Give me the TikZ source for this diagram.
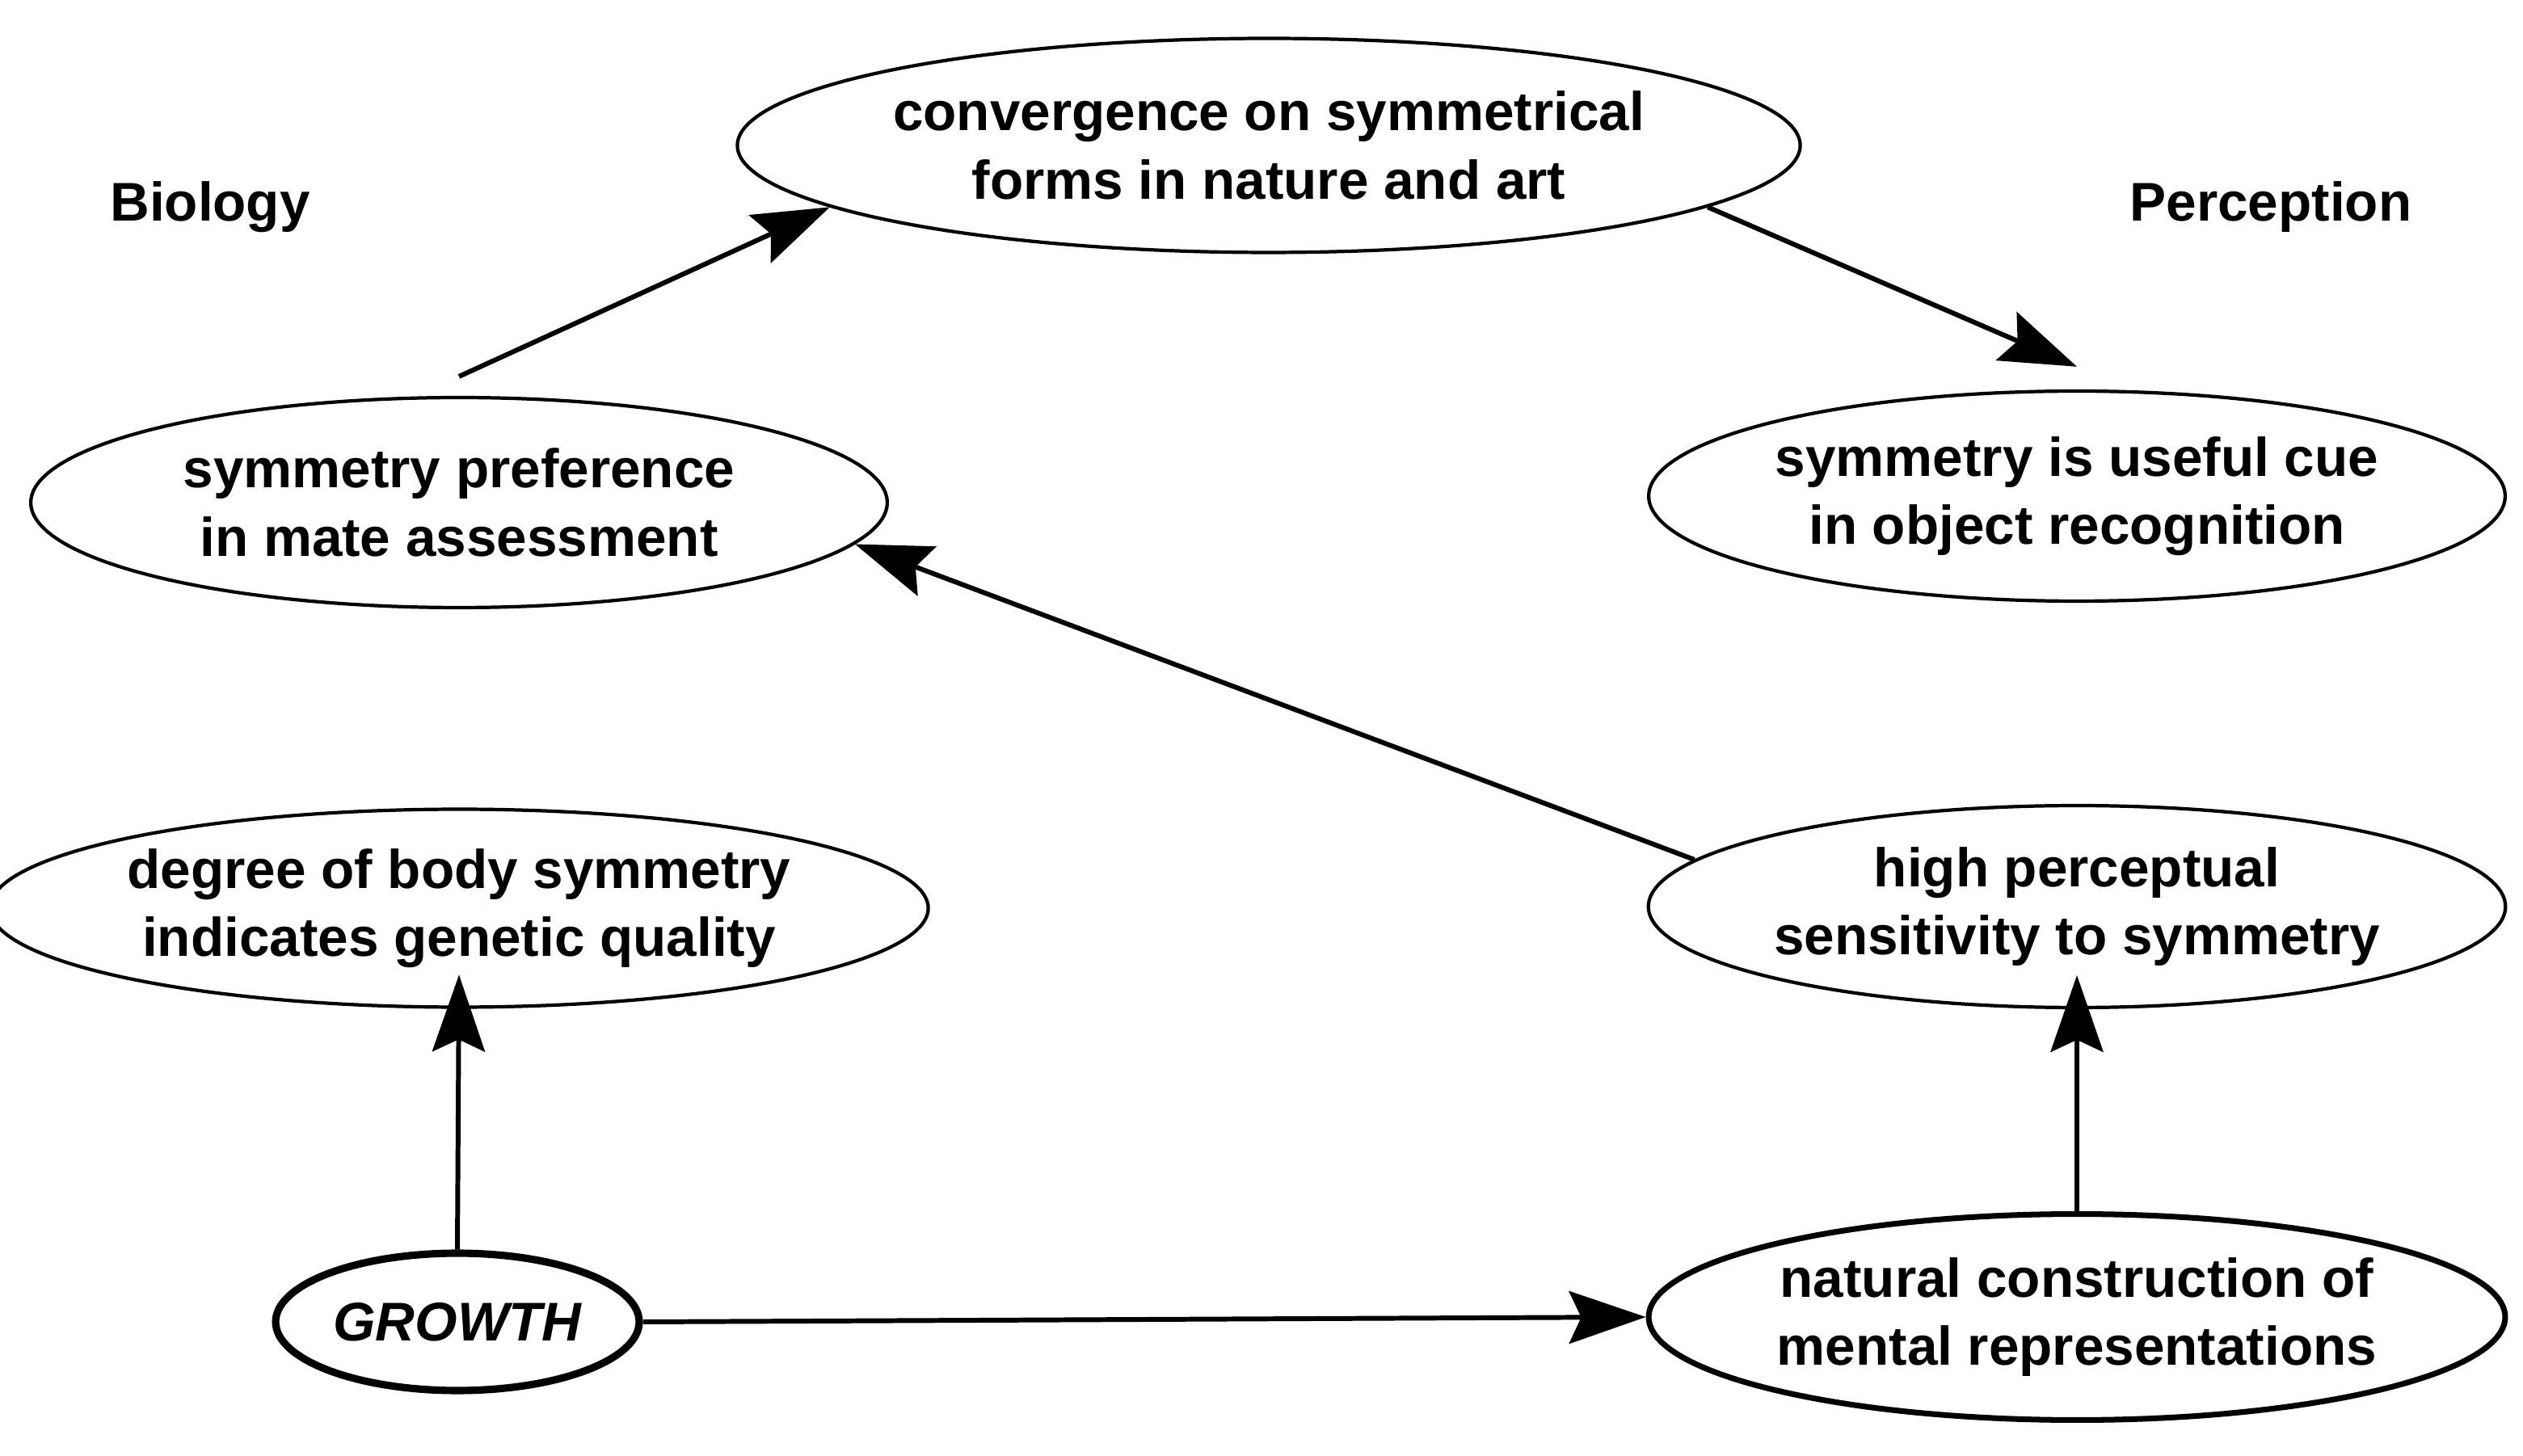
\documentclass[tikz,border=0pt]{standalone}
\usepackage{fontspec}
\setmainfont{Liberation Sans}
\usetikzlibrary{shapes.geometric,arrows.meta}
\begin{document}
\begin{tikzpicture}[x=0.02cm,y=-0.02cm,
    font=\fontsize{19.2}{24}\selectfont\bfseries]
    \tikzstyle{idea}=[draw=black,ellipse,line width=1.2pt,align=center,inner sep=0pt,minimum width=10.6cm,minimum height=2.6cm]
    \tikzstyle{fwd}=[draw=black,line width=1.7pt,-{Stealth[length=0.95cm,width=0.65cm,inset=0.15cm]}]
    \useasboundingbox (0,0) rectangle (1561,901);

    \node at (130,128) {Biology};
    \node at (1405,128) {Perception};

    \node[idea,minimum width=12cm,minimum height=2.65cm] (conv) at (785,90) {convergence on symmetrical\\forms in nature and art};
    \node[idea] (mate) at (284,311) {symmetry preference\\in mate assessment};
    \node[idea] (object) at (1285,307) {symmetry is useful cue\\in object recognition};
    \node[idea,minimum height=2.45cm] (genetic) at (284,562) {degree of body symmetry\\indicates genetic quality};
    \node[idea,minimum height=2.5cm] (sens) at (1285,561) {high perceptual\\sensitivity to symmetry};
    \node[idea,line width=2.6pt,minimum width=4.5cm,minimum height=1.7cm] (growth) at (283,818) {\itshape GROWTH};
    \node[idea,line width=2pt,minimum height=2.55cm] (natural) at (1285,815) {natural construction of\\mental representations};

    \draw[fwd] (mate.north) ++(0,-12) -- (conv.188);
    \draw[fwd] (conv.-8) -- ([yshift=8]object.north);
    \draw[fwd] (sens.173) -- (mate.-6);
    \draw[fwd] (growth.north) -- ([yshift=12]genetic.south);
    \draw[fwd] (growth.east) -- (natural.west);
    \draw[fwd] (natural.north) -- ([yshift=12]sens.south);
\end{tikzpicture}
\end{document}
